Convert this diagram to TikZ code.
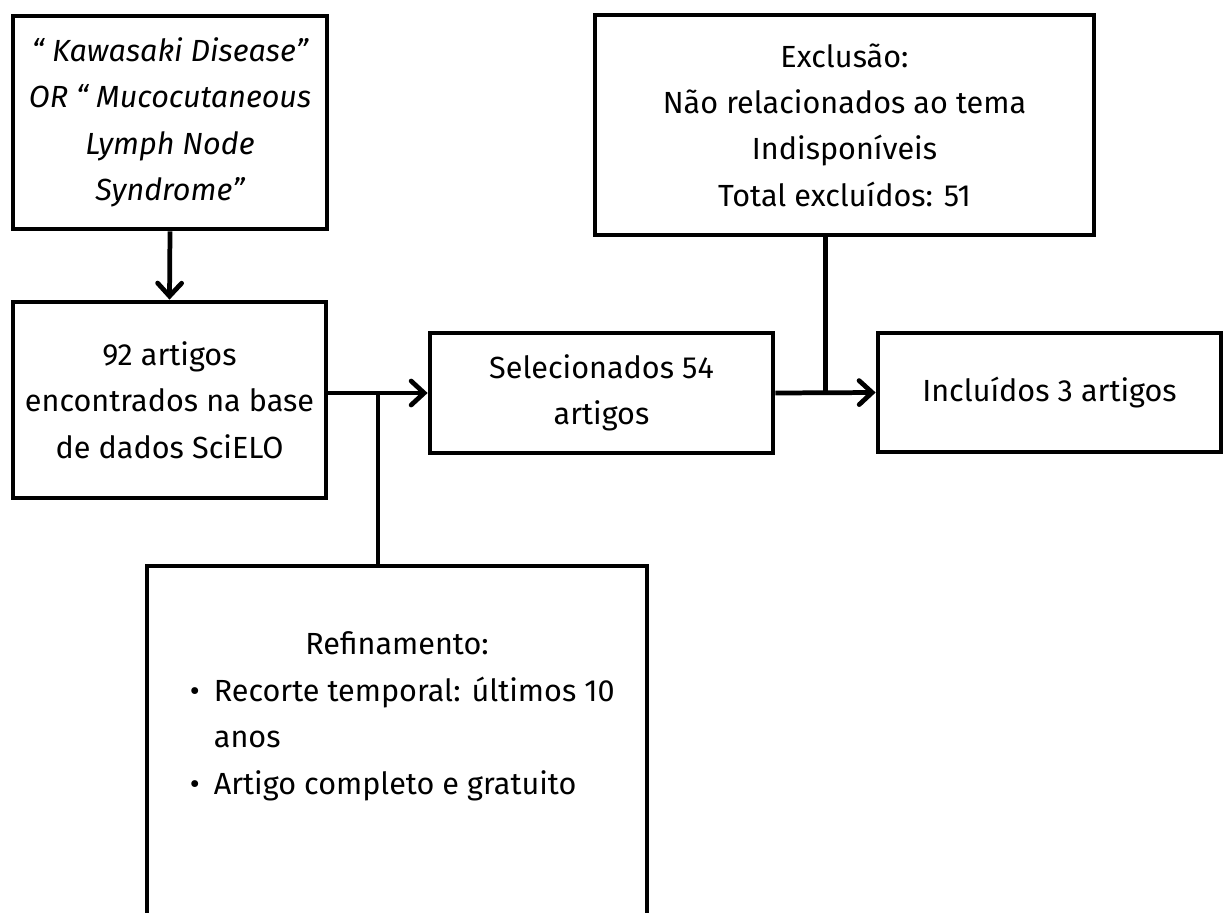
\documentclass[tikz,border=0pt]{standalone}
\usepackage{fontspec}
\setmainfont{Fira Sans}
\usetikzlibrary{arrows.meta,calc}

\begin{document}
\begin{tikzpicture}[
    box/.style={draw, line width=1.35pt, align=center, inner sep=0pt, font=\fontsize{8.7}{13.2}\selectfont},
    flow/.style={line width=1.35pt, -{Straight Barb[length=1.3mm, width=2.4mm, line cap=round]}},
    link/.style={line width=1.35pt}
  ]
  \useasboundingbox (0,0) rectangle (12.24,-9.12);

  % Search terms
  \node[box, minimum width=3.14cm, minimum height=2.13cm, font=\fontsize{8.7}{13.2}\selectfont\itshape] (query) at (1.70,-1.225)
    {“ Kawasaki Disease”\\OR “ Mucocutaneous\\Lymph Node\\Syndrome”};

  % Found in database
  \node[box, minimum width=3.13cm, minimum height=1.96cm] (found) at (1.695,-4.00)
    {92 artigos\\encontrados na base\\de dados SciELO};

  % Selected
  \node[box, minimum width=3.43cm, minimum height=1.20cm] (sel) at (6.015,-3.93)
    {Selecionados 54\\artigos};

  % Exclusion criteria
  \node[box, minimum width=4.99cm, minimum height=2.20cm] (excl) at (8.445,-1.25)
    {Exclusão:\\Não relacionados ao tema\\Indisponíveis\\Total excluídos: 51};

  % Included
  \node[box, minimum width=3.43cm, minimum height=1.19cm] (incl) at (10.495,-3.925)
    {Incluídos 3 artigos};

  % Refinement
  \node[box, minimum width=5.00cm, minimum height=3.94cm] (refin) at (3.97,-7.63)
    {\begin{minipage}[c][3.94cm][t]{4.8cm}
      \vspace*{0.66cm}
      \centering Refinamento:\par
      \raggedright\hspace*{0.33cm}%
      \begin{tabular}[t]{@{}l@{\hspace{0.14cm}}l@{}}
        • & Recorte temporal: últimos 10\\
          & anos\\
        • & Artigo completo e gratuito
      \end{tabular}
    \end{minipage}};

  % Connectors
  \coordinate (refjoin) at ($(found.east |- sel.west)!0.5!(sel.west)$);
  \coordinate (excljoin) at ($(sel.east)!0.5!(incl.west)$);

  \draw[flow] (query.south) -- (found.north);
  \draw[flow] (found.east |- sel.west) -- (sel.west);
  \draw[link] (refjoin) -- (refjoin |- refin.north);
  \draw[flow] (sel.east) -- (incl.west);
  \draw[link] (excljoin) -- (excljoin |- excl.south);
\end{tikzpicture}
\end{document}
